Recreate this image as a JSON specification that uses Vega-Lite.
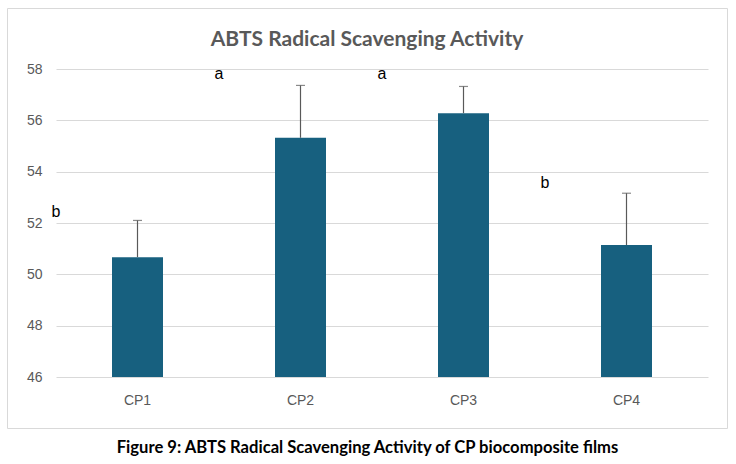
{
  "$schema": "https://vega.github.io/schema/vega-lite/v6.json",
  "description": "ABTS radical scavenging activity of CP biocomposite films",
  "autosize": "none",
  "width": 720,
  "height": 420,
  "padding": {"left": 7, "top": 8, "right": 9, "bottom": 36},
  "background": "white",
  "title": {
    "text": "ABTS Radical Scavenging Activity",
    "font": "Lato",
    "fontSize": 21,
    "fontWeight": "bold",
    "color": "#595959",
    "anchor": "middle",
    "offset": -42
  },
  "data": {
    "values": [
      {"cp": "CP1", "mean": 50.67, "upper": 52.10, "letter": "b", "ly": 52.24},
      {"cp": "CP2", "mean": 55.32, "upper": 57.36, "letter": "a", "ly": 57.6},
      {"cp": "CP3", "mean": 56.28, "upper": 57.32, "letter": "a", "ly": 57.6},
      {"cp": "CP4", "mean": 51.14, "upper": 53.16, "letter": "b", "ly": 53.35}
    ]
  },
  "encoding": {
    "x": {
      "field": "cp",
      "type": "nominal",
      "scale": {"range": [49, 701], "paddingInner": 0, "paddingOuter": 0},
      "axis": {
        "title": "Figure 9: ABTS Radical Scavenging Activity of CP biocomposite films",
        "titleFont": "Lato",
        "titleFontSize": 16.6,
        "titleFontWeight": "bold",
        "titleColor": "#000000",
        "titleX": 360,
        "titleY": 58,
        "titleBaseline": "middle",
        "offset": -39,
        "labelPadding": 4,
        "labelAngle": 0,
        "labelFont": "Liberation Sans",
        "labelFontSize": 14,
        "labelColor": "#595959",
        "domain": false,
        "ticks": false,
        "grid": false
      }
    }
  },
  "layer": [
    {
      "mark": {"type": "bar", "size": 51, "color": "#17607f"},
      "encoding": {
        "y": {
          "field": "mean",
          "type": "quantitative",
          "scale": {"domain": [46, 58], "range": [369, 61], "zero": false},
          "axis": {
            "title": null,
            "values": [46, 48, 50, 52, 54, 56, 58],
            "offset": -38,
            "labelPadding": 3,
            "labelFont": "Liberation Sans",
            "labelFontSize": 14,
            "labelColor": "#595959",
            "domain": false,
            "ticks": false,
            "grid": true,
            "gridColor": "#d9d9d9",
            "gridWidth": 1
          }
        },
        "y2": {"datum": 46}
      }
    },
    {
      "mark": {"type": "rule", "color": "#595959", "strokeWidth": 1.2},
      "encoding": {
        "y": {"field": "mean", "type": "quantitative"},
        "y2": {"field": "upper"}
      }
    },
    {
      "mark": {"type": "tick", "color": "#595959", "size": 9, "thickness": 1.2},
      "encoding": {
        "y": {"field": "upper", "type": "quantitative"}
      }
    },
    {
      "mark": {"type": "text", "font": "Liberation Sans", "fontSize": 16, "color": "#000000", "align": "center", "baseline": "alphabetic"},
      "encoding": {
        "x": {"field": "cp", "type": "nominal", "bandPosition": 0},
        "y": {"field": "ly", "type": "quantitative"},
        "text": {"field": "letter"}
      }
    }
  ],
  "config": {
    "view": {"stroke": "#d9d9d9", "strokeWidth": 1}
  }
}
